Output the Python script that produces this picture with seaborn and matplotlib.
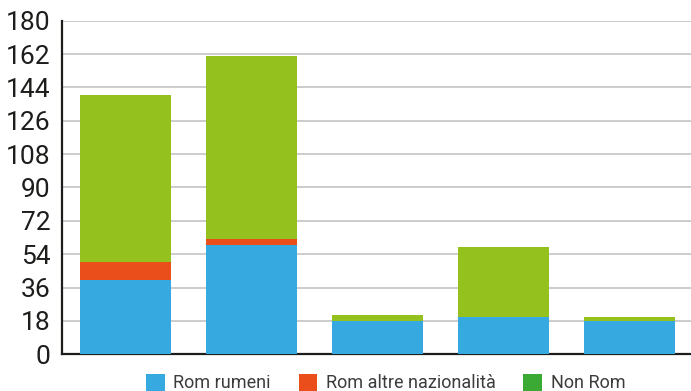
import matplotlib
matplotlib.use("Agg")
import matplotlib.pyplot as plt
from matplotlib.patches import Patch
import numpy as np
import pandas as pd
import seaborn as sns

# Data
gruppi = ["A", "B", "C", "D", "E"]
rom_rumeni = [40, 59, 18, 20, 18]
rom_altre = [10, 3, 0, 0, 0]
non_rom = [90, 99, 3, 38, 2]
serie = ["Rom rumeni", "Rom altre nazionalità", "Non Rom"]
y_ticks = [0, 18, 36, 54, 72, 90, 108, 126, 144, 162, 180]

colori_barre = ["#36a9e1", "#e94e1b", "#95c11f"]
colori_legenda = ["#36a9e1", "#e94e1b", "#3aaa35"]

sns.set_theme(style="white")
plt.rcParams["font.family"] = ["Roboto", "DejaVu Sans"]

fig = plt.figure(figsize=(6.91, 3.91), dpi=100)
ax = fig.add_axes([0.0897, 0.094, 0.912, 0.853])

df = pd.DataFrame({"gruppo": gruppi, serie[0]: rom_rumeni,
                   serie[1]: rom_altre, serie[2]: non_rom})
base = np.zeros(len(gruppi))
for nome, col in zip(serie, colori_barre):
    vals = df[nome].to_numpy(dtype=float)
    ax.bar(np.arange(len(gruppi)), vals, bottom=base, width=0.722,
           color=col, edgecolor="none", linewidth=0, zorder=3)
    base += vals

ax.set_xlim(-0.5, len(gruppi) - 0.5)
ax.set_ylim(0, 180)
ax.set_yticks(y_ticks)
ax.set_yticklabels([str(v) for v in y_ticks], fontsize=19, color="#1d1d1b")
ax.tick_params(axis="y", length=0, pad=8)

ax.set_xticks(np.arange(0.5, len(gruppi) - 0.5, 1.0))
ax.set_xticklabels([])
ax.tick_params(axis="x", direction="in", length=5, width=1.2, color="#1d1d1b")

ax.grid(axis="y", color="#c8c8c8", linewidth=1.3, zorder=0)
ax.grid(axis="x", visible=False)
ax.set_axisbelow(True)

for s in ["top", "right"]:
    ax.spines[s].set_visible(False)
for s in ["left", "bottom"]:
    ax.spines[s].set_color("#1d1d1b")
    ax.spines[s].set_linewidth(1.6)
ax.spines["bottom"].set_zorder(2.5)

handles = [Patch(facecolor=c, edgecolor="none") for c in colori_legenda]
fig.legend(handles, serie, loc="lower center", bbox_to_anchor=(0.558, -0.045),
           ncol=3, frameon=False, fontsize=13, handlelength=1.05,
           handleheight=1.05, handletextpad=0.45, columnspacing=1.55,
           labelcolor="#3c3c3b")

fig.savefig("out.png", dpi=100)
